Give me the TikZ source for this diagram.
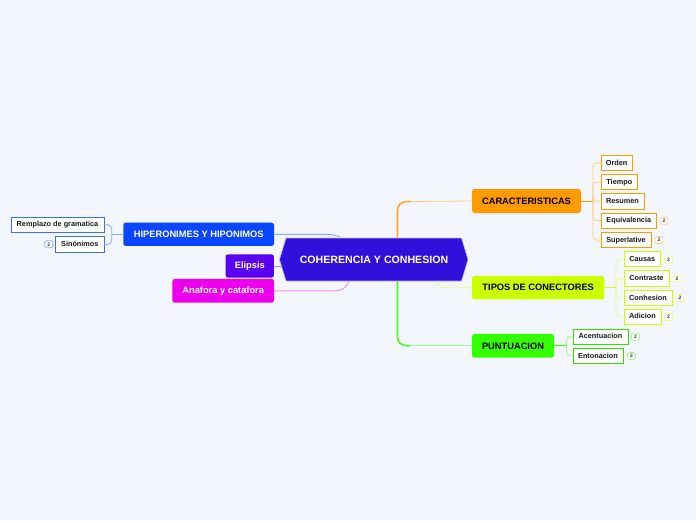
\documentclass[tikz,border=0pt]{standalone}
\usepackage{fontspec}
\setmainfont{Liberation Sans}
\definecolor{bg}{HTML}{F3F6FD}
\definecolor{cen}{HTML}{3210DC}
\definecolor{corange}{HTML}{FF9A00}
\definecolor{lorange}{HTML}{FFCB80}
\definecolor{cyel}{HTML}{CCFF00}
\definecolor{lyel}{HTML}{E2FF80}
\definecolor{cgreen}{HTML}{33FF00}
\definecolor{bgreen}{HTML}{33DD00}
\definecolor{lgreen}{HTML}{99FF80}
\definecolor{cblue}{HTML}{0A46FF}
\definecolor{lblue}{HTML}{88AAFF}
\definecolor{cpurp}{HTML}{5A00F0}
\definecolor{lpurp}{HTML}{AA88FF}
\definecolor{cmag}{HTML}{EE00EE}
\definecolor{lmag}{HTML}{F590F5}
\begin{document}
\begin{tikzpicture}[x=1pt,y=-1pt,
  main/.style={rounded corners=2.5pt, inner sep=0pt, font=\bfseries\fontsize{9.3}{10}\selectfont},
  sub/.style={draw, fill=white, line width=0.9pt, inner sep=0pt, minimum height=15.5pt, text height=5.4pt, text depth=1.3pt, font=\bfseries\fontsize{7.3}{8}\selectfont, text=black!90},
  badge/.style={draw, fill=white, rounded corners=1.5pt, line width=0.7pt, inner sep=0pt, minimum width=8pt, minimum height=7pt, font=\bfseries\fontsize{5}{5}\selectfont, text=black!80},
  link/.style={line width=0.8pt, rounded corners=4pt},
]
\fill[bg] (0,0) rectangle (696,520);
\useasboundingbox (0,0) rectangle (696,520);

% main topic nodes
\node[main, fill=corange, minimum width=109pt, minimum height=24pt] (car) at (526.5,201) {CARACTERISTICAS};
\node[main, fill=cyel, minimum width=132.3pt, minimum height=23.5pt] (tip) at (538.2,287.7) {TIPOS DE CONECTORES};
\node[main, fill=cgreen, minimum width=82pt, minimum height=23.7pt] (pun) at (513,345.8) {PUNTUACION};
\node[main, fill=cblue, text=white, minimum width=150.7pt, minimum height=23.3pt] (hip) at (198.7,234.3) {HIPERONIMES Y HIPONIMOS};
\node[main, fill=cpurp, text=white, minimum width=48.3pt, minimum height=23.4pt] (eli) at (249.8,266) {Elipsis};
\node[main, fill=cmag, text=white, minimum width=101.7pt, minimum height=23.7pt] (ana) at (223.2,290.8) {Anafora y catafora};

% connectors centre -> main topics
\coordinate (c1) at (397.5,238);
\coordinate (c1b) at (410,201.5);
\draw[corange!85, line width=1.6pt] (c1) -- (397.5,213) .. controls (397.5,204) and (400,201.5) .. (c1b);
\draw[lorange, line width=0.8pt] (c1b) -- (car.west);
\coordinate (c2) at (435.5,282.5);
\coordinate (c2b) at (452,288);
\draw[lyel, line width=0.9pt] (c2) .. controls (440,287) and (444,288) .. (c2b) -- (tip.west);
\coordinate (c3) at (397.5,281);
\coordinate (c3b) at (410,345.8);
\draw[cgreen!90, line width=1.6pt] (c3) -- (397.5,334) .. controls (397.5,343) and (400,345.8) .. (c3b);
\draw[lgreen, line width=0.8pt] (c3b) -- (pun.west);
\coordinate (c4) at (340,236.5);
\draw[lblue, line width=0.9pt] (hip.east) -- (328,234.3) .. controls (334,234.3) and (336,236.5) .. (c4);
\coordinate (c5) at (284,266);
\draw[lpurp, line width=0.9pt] (eli.east) -- (c5);
\coordinate (c6) at (349,281);
\draw[lmag, line width=0.9pt] (ana.east) -- (334,290.8) .. controls (343,290.8) and (347,287) .. (c6);

% central node
\fill[cen, draw=white!70!cen, line width=0.6pt] (279.5,259.5) -- (286,238) -- (461.5,238) -- (468,259.5) -- (461.5,281) -- (286,281) -- cycle;
\node[text=white, font=\bfseries\fontsize{10.6}{11}\selectfont] (core) at (374,259.5) {COHERENCIA Y CONHESION};

% CARACTERISTICAS children
\node[sub, draw=corange, minimum width=31.3pt] (ord) at (616.7,163) {Orden};
\node[sub, draw=corange, minimum width=36.7pt] (tie) at (619.3,182) {Tiempo};
\node[sub, draw=corange, minimum width=43pt] (res) at (622.5,201.3) {Resumen};
\node[sub, draw=corange, minimum width=55.7pt] (equ) at (628.8,220.7) {Equivalencia};
\node[sub, draw=corange, minimum width=50pt] (sup) at (626,240) {Superlative};
\node[badge, draw=lorange] (bequ) at (664,220.7) {2};
\node[badge, draw=lorange] (bsup) at (659,240) {2};
\coordinate (bc) at (593,201);
\draw[corange, line width=0.8pt] (car.east) -- (bc);
\foreach \n in {ord,tie,res,equ,sup} \draw[link, lorange] (bc) |- (\n.west);

% TIPOS children
\node[sub, draw=cyel, minimum width=36.7pt] (cau) at (642.3,259) {Causas};
\node[sub, draw=cyel, minimum width=45pt] (con) at (646.5,278.5) {Contraste};
\node[sub, draw=cyel, minimum width=48pt] (coh) at (648,298) {Conhesion};
\node[sub, draw=cyel, minimum width=37pt] (adi) at (642.5,316.7) {Adicion};
\node[badge, draw=lyel] (bcau) at (668.5,259.5) {2};
\node[badge, draw=lyel] (bcon) at (677,278.5) {2};
\node[badge, draw=lyel] (bcoh) at (680,298) {2};
\node[badge, draw=lyel] (badi) at (668.5,317) {2};
\coordinate (bt) at (616,287.7);
\draw[cyel, line width=0.8pt] (tip.east) -- (bt);
\foreach \n in {cau,con,coh,adi} \draw[link, lyel] (bt) |- (\n.west);

% PUNTUACION children
\node[sub, draw=bgreen, minimum width=55pt] (ace) at (600.5,336.7) {Acentuacion};
\node[sub, draw=bgreen, minimum width=50pt] (ent) at (598,356) {Entonacion};
\node[badge, draw=lgreen] (bace) at (635.5,336.7) {2};
\node[badge, draw=lgreen] (bent) at (631.5,356) {2};
\coordinate (bp) at (566.5,345.8);
\draw[cgreen, line width=0.8pt] (pun.east) -- (bp);
\foreach \n in {ace,ent} \draw[link, lgreen] (bp) |- (\n.west);

% HIPERONIMES children
\node[sub, draw=cblue!80, minimum width=93pt] (rem) at (57.5,224.8) {Remplazo de gramatica};
\node[sub, draw=cblue!80, minimum width=48.3pt] (sin) at (79.8,244.5) {Sinónimos};
\node[badge, draw=lblue] (bsin) at (48.7,244.3) {2};
\coordinate (bh) at (111.7,234.3);
\draw[lblue, line width=0.8pt] (hip.west) -- (bh);
\foreach \n in {rem,sin} \draw[link, lblue] (bh) |- (\n.east);
\end{tikzpicture}
\end{document}
